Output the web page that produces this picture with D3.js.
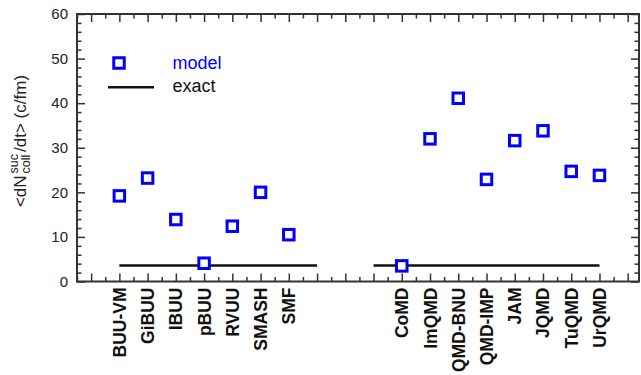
<!DOCTYPE html>
<html>
  <head>
    <meta charset="utf-8" />
    <script src="https://d3js.org/d3.v7.min.js"></script>
    <title>collision rate</title>
    <style>
      body { margin: 0; background: #fff; }
      text { font-family: "Liberation Sans", Arial, sans-serif; }
    </style>
  </head>
  <body>
    <svg id="chart" width="641" height="375"></svg>

    <script>
    // transport codes, two groups
    var buuModels = ["BUU-VM", "GiBUU", "IBUU", "pBUU", "RVUU", "SMASH", "SMF"];
    var buuValues = [19.2, 23.2, 13.9, 4.1, 12.4, 20.0, 10.5];
    var qmdModels = ["CoMD", "ImQMD", "QMD-BNU", "QMD-IMP", "JAM", "JQMD", "TuQMD", "UrQMD"];
    var qmdValues = [3.5, 32.0, 41.1, 22.9, 31.6, 33.8, 24.7, 23.8];
    // exact result drawn as a flat line under each group
    var exactValue = 3.6;
    var exactRanges = [[1, 8], [10, 18]];
    var yTicks = [0, 10, 20, 30, 40, 50, 60];

    var buuStart = 1, qmdStart = 11;

    var points = buuModels.map(function(m, i) {
        return { name: m, pos: buuStart + i, value: buuValues[i] };
    }).concat(qmdModels.map(function(m, i) {
        return { name: m, pos: qmdStart + i, value: qmdValues[i] };
    }));

    var plotLeft = 77, plotRight = 639, plotTop = 14, plotBottom = 281.5;
    var x = d3.scaleLinear().domain([-0.5, 19.4]).range([plotLeft, plotRight]);
    var y = d3.scaleLinear().domain([0, 60]).range([plotBottom, plotTop]);

    var svg = d3.select("#chart");
    var axisColor = "#333";

    // frame
    svg.append("rect")
        .attr("x", plotLeft).attr("y", plotTop)
        .attr("width", plotRight - plotLeft).attr("height", plotBottom - plotTop)
        .attr("fill", "none").attr("stroke", axisColor).attr("stroke-width", 2);

    function styleAxis(g) {
        g.select(".domain").remove();
        g.selectAll(".tick line").attr("stroke", axisColor).attr("stroke-width", 1.5);
    }

    var yMinor = d3.range(0, 61, 2).filter(function(v) { return v % 10 != 0; });
    var xMajor = d3.range(0, 20);
    var xMinor = d3.range(-0.5, 19.5, 1);

    // y axis left with labels
    svg.append("g").attr("transform", "translate(" + plotLeft + ",0)")
        .call(d3.axisLeft(y).tickValues(yTicks).tickSizeInner(-8).tickSizeOuter(0).tickPadding(9))
        .call(styleAxis)
        .selectAll("text").attr("font-size", 15).attr("fill", "#222")
        .attr("font-family", "Liberation Sans, Arial, sans-serif");
    svg.append("g").attr("transform", "translate(" + plotLeft + ",0)")
        .call(d3.axisLeft(y).tickValues(yMinor).tickSizeInner(-4.5).tickSizeOuter(0).tickFormat(""))
        .call(styleAxis);
    // y axis right
    svg.append("g").attr("transform", "translate(" + plotRight + ",0)")
        .call(d3.axisRight(y).tickValues(yTicks).tickSizeInner(-8).tickSizeOuter(0).tickFormat(""))
        .call(styleAxis);
    svg.append("g").attr("transform", "translate(" + plotRight + ",0)")
        .call(d3.axisRight(y).tickValues(yMinor).tickSizeInner(-4.5).tickSizeOuter(0).tickFormat(""))
        .call(styleAxis);

    // x ticks top and bottom
    svg.append("g").attr("transform", "translate(0," + plotBottom + ")")
        .call(d3.axisBottom(x).tickValues(xMajor).tickSizeInner(-8).tickSizeOuter(0).tickFormat(""))
        .call(styleAxis);
    svg.append("g").attr("transform", "translate(0," + plotBottom + ")")
        .call(d3.axisBottom(x).tickValues(xMinor).tickSizeInner(-4.5).tickSizeOuter(0).tickFormat(""))
        .call(styleAxis);
    svg.append("g").attr("transform", "translate(0," + plotTop + ")")
        .call(d3.axisTop(x).tickValues(xMajor).tickSizeInner(-8).tickSizeOuter(0).tickFormat(""))
        .call(styleAxis);
    svg.append("g").attr("transform", "translate(0," + plotTop + ")")
        .call(d3.axisTop(x).tickValues(xMinor).tickSizeInner(-4.5).tickSizeOuter(0).tickFormat(""))
        .call(styleAxis);

    // model names under the axis
    svg.append("g").selectAll("text")
        .data(points)
        .enter().append("text")
        .attr("transform", function(d) {
            return "translate(" + (x(d.pos) + 6.5) + "," + (plotBottom + 6) + ") rotate(-90)";
        })
        .attr("text-anchor", "end")
        .attr("font-size", 17.5)
        .attr("font-weight", "bold")
        .attr("fill", "#111")
        .text(function(d) { return d.name; });

    // exact lines
    svg.append("g").selectAll("line")
        .data(exactRanges)
        .enter().append("line")
        .attr("x1", function(d) { return x(d[0]); })
        .attr("x2", function(d) { return x(d[1]); })
        .attr("y1", y(exactValue)).attr("y2", y(exactValue))
        .attr("stroke", "#111").attr("stroke-width", 2.5);

    // model squares
    var sq = 10.5;
    svg.append("g").selectAll("rect")
        .data(points)
        .enter().append("rect")
        .attr("x", function(d) { return x(d.pos) - sq / 2; })
        .attr("y", function(d) { return y(d.value) - sq / 2; })
        .attr("width", sq).attr("height", sq)
        .attr("fill", "#fff").attr("stroke", "#0000ff").attr("stroke-width", 3);

    // legend
    var lg = svg.append("g");
    lg.append("rect")
        .attr("x", 119 - sq / 2).attr("y", 63 - sq / 2)
        .attr("width", sq).attr("height", sq)
        .attr("fill", "#fff").attr("stroke", "#0000ff").attr("stroke-width", 3);
    lg.append("text").attr("x", 172.5).attr("y", 69)
        .attr("font-size", 18).attr("fill", "#0000ff").text("model");
    lg.append("line")
        .attr("x1", 108).attr("x2", 154).attr("y1", 87.3).attr("y2", 87.3)
        .attr("stroke", "#111").attr("stroke-width", 2.5);
    lg.append("text").attr("x", 172.5).attr("y", 92)
        .attr("font-size", 18).attr("fill", "#111").text("exact");

    // y axis title, built in pieces so the scripts can stack
    var yl = svg.append("g").attr("transform", "translate(25.5,141) rotate(-90)");
    var pos = 0;
    function piece(str, size, dy) {
        var t = yl.append("text").attr("x", pos).attr("y", dy)
            .attr("font-size", size).attr("fill", "#222").text(str);
        return t;
    }
    var p1 = piece("<dN", 17, 0);
    pos += p1.node().getComputedTextLength() + 2;
    var sup = piece("suc", 12.5, -8);
    var sub = piece("coll", 12.5, 4.5);
    pos += Math.max(sup.node().getComputedTextLength(), sub.node().getComputedTextLength()) + 2;
    var p3 = piece("/dt> (c/fm)", 17, 0);
    pos += p3.node().getComputedTextLength();
    yl.selectAll("text").attr("transform", "translate(" + (-pos / 2) + ",0)");
    </script>
  </body>
</html>
